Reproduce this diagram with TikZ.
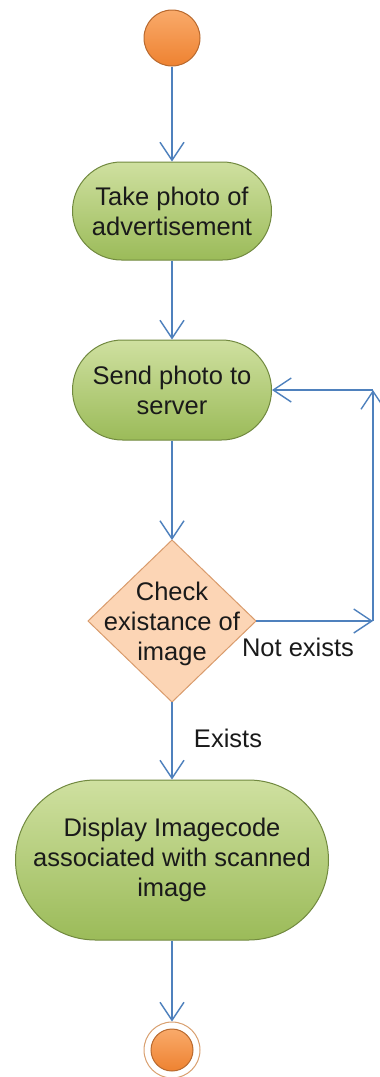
\documentclass[tikz,border=0pt]{standalone}
\usepackage{fontspec}
\setmainfont{Liberation Sans}
\usetikzlibrary{arrows.meta,shapes.geometric}
\definecolor{lineblue}{HTML}{4F81BD}
\definecolor{greentop}{HTML}{CFE0A0}
\definecolor{greenbot}{HTML}{9BBB59}
\definecolor{greenline}{HTML}{71893F}
\definecolor{peach}{HTML}{FCD5B5}
\definecolor{peachline}{HTML}{D99B6C}
\definecolor{orangetop}{HTML}{F9AA6A}
\definecolor{orangebot}{HTML}{EE8231}
\definecolor{orangeline}{HTML}{B8692E}
\definecolor{ringline}{HTML}{D9A070}
\definecolor{txt}{HTML}{1A1A1A}
\begin{document}
\begin{tikzpicture}[x=1pt,y=-1pt,
  txtfont/.style={font=\fontsize{25.5pt}{30pt}\selectfont, text=txt},
  act/.style={rectangle, draw=greenline, line width=1pt, top color=greentop, bottom color=greenbot, align=center, txtfont, inner sep=0pt},
  dec/.style={diamond, draw=peachline, line width=1pt, fill=peach, minimum width=168pt, minimum height=162pt, inner sep=0pt, outer sep=0pt},
  startnode/.style={circle, draw=orangeline, line width=1pt, top color=orangetop, bottom color=orangebot, minimum size=56pt, inner sep=0pt},
  flow/.style={draw=lineblue, line width=1.4pt, -{Straight Barb[length=18pt,width=24pt,line width=1.4pt]}},
  lbl/.style={txtfont, inner sep=0pt}
]
\useasboundingbox (0,0) rectangle (380,1077);

\node[startnode] (start) at (172,38) {};
\node[act, minimum width=199pt, minimum height=98pt, rounded corners=49pt] (take) at (172,211) {Take photo of\\advertisement};
\node[act, minimum width=199pt, minimum height=100pt, rounded corners=50pt] (send) at (172,390) {Send photo to\\server};
\node[dec] (chk) at (172,621) {};
\node[align=center, txtfont, inner sep=0pt] (chktext) at (172,624) {Check\\existance of\\image};
\node[act, minimum width=313pt, minimum height=160pt, rounded corners=80pt] (disp) at (172,860) {Display Imagecode\\associated with scanned\\image};
\node[circle, draw=ringline, line width=1pt, fill=white, minimum size=56pt, inner sep=0pt] (end) at (172,1050) {};
\node[startnode, minimum size=42pt] (endin) at (end) {};

\coordinate (c1) at (373,621);
\coordinate (c2) at (373,390);

\draw[flow] (start) -- (take);
\draw[flow] (take) -- (send);
\draw[flow] (send) -- (chk.north);
\draw[flow] (chk.south) -- (disp);
\draw[flow] (disp) -- (end);
\draw[flow] (chk.east) -- (c1);
\draw[flow] (c1) -- (c2);
\draw[flow] (c2) -- (send.east);

\node[lbl] (ne) at (298,647) {Not exists};
\node[lbl] (ex) at (228,738) {Exists};
\end{tikzpicture}
\end{document}
